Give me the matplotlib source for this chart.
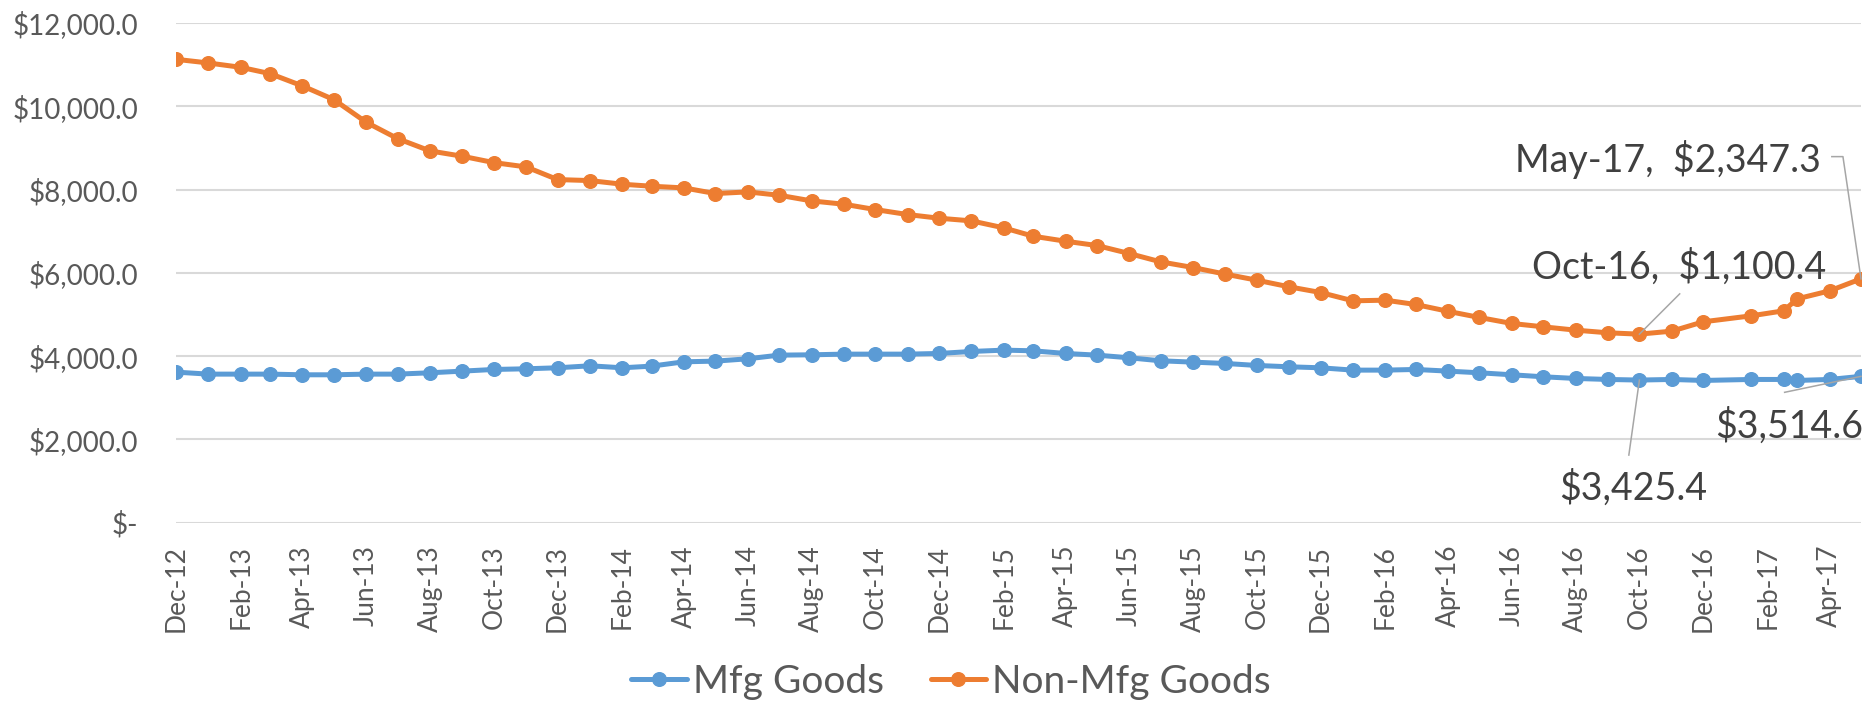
import matplotlib
matplotlib.use("Agg")
import matplotlib.pyplot as plt
import matplotlib.dates as mdates
import matplotlib.ticker as mticker
import matplotlib.transforms as mtransforms
import pandas as pd

# ── Data ──────────────────────────────────────────────────────────────────────

# Monthly observations Dec-12 .. Dec-16, then the 2017 reporting dates
dates = list(pd.date_range("2012-12-01", "2016-12-01", freq="MS")) + [
    pd.Timestamp("2017-01-16"),
    pd.Timestamp("2017-02-16"),
    pd.Timestamp("2017-03-01"),
    pd.Timestamp("2017-04-01"),
    pd.Timestamp("2017-05-01"),
]

mfg_goods = [
    3616, 3568, 3568, 3568, 3552, 3552, 3568, 3568, 3600, 3640, 3680, 3696,
    3720, 3768, 3720, 3760, 3864, 3880, 3936, 4024, 4032, 4048, 4048, 4048,
    4064, 4112, 4144, 4128, 4064, 4024, 3960, 3888, 3856, 3824, 3776, 3744,
    3720, 3664, 3664, 3680, 3640, 3600, 3552, 3504, 3464, 3440, 3425.4, 3440,
    3416, 3440, 3440, 3416, 3440, 3514.6,
]

non_mfg_goods = [
    11128, 11040, 10936, 10784, 10488, 10160, 9616, 9224, 8928, 8800, 8648, 8544,
    8240, 8216, 8128, 8080, 8040, 7904, 7944, 7864, 7728, 7648, 7520, 7400,
    7312, 7248, 7080, 6880, 6760, 6656, 6464, 6264, 6128, 5968, 5824, 5664,
    5528, 5328, 5344, 5240, 5076, 4928, 4784, 4704, 4624, 4560, 4528, 4600,
    4824, 4968, 5088, 5376, 5568, 5856,
]

series_names = ["Mfg Goods", "Non-Mfg Goods"]

# Callout figures shown next to the Non-Mfg points
callout_months = ["Oct-16", "May-17"]
callout_figures = [1100.4, 2347.3]

# ── Style ─────────────────────────────────────────────────────────────────────

BLUE = "#5B9BD5"
ORANGE = "#ED7D31"
GRID = "#D9D9D9"
TICK_TXT = "#595959"
LABEL_TXT = "#404040"
LEADER = "#A6A6A6"

plt.rcParams["font.family"] = ["Lato", "DejaVu Sans"]


def money(v, _pos=None):
    if v == 0:
        return "$-"
    return f"${v:,.1f}"


fig = plt.figure(figsize=(18.72, 7.03), dpi=100)
ax = fig.add_axes([176 / 1872, 1 - 522.7 / 703, (1861 - 176) / 1872, (522.7 - 23) / 703])

line_kw = dict(lw=3.6, marker="o", markersize=9.8, solid_capstyle="round")
ax.plot(dates, mfg_goods, color=BLUE, label=series_names[0], **line_kw)
ax.plot(dates, non_mfg_goods, color=ORANGE, label=series_names[1], **line_kw)

ax.set_xlim(dates[0], dates[-1])
ax.set_ylim(0, 12000)
ax.yaxis.set_major_locator(mticker.MultipleLocator(2000))
ax.yaxis.set_major_formatter(mticker.FuncFormatter(money))
ax.xaxis.set_major_locator(mdates.MonthLocator(bymonth=(2, 4, 6, 8, 10, 12)))
ax.xaxis.set_major_formatter(mdates.DateFormatter("%b-%y"))

ax.grid(axis="y", color=GRID, lw=1.5)
ax.set_axisbelow(True)
for side in ax.spines.values():
    side.set_visible(False)

ax.tick_params(axis="y", length=0, pad=27, labelsize=20, labelcolor=TICK_TXT)
ax.tick_params(axis="x", length=0, pad=16, labelsize=19, labelcolor=TICK_TXT,
               labelrotation=90)

# ── Callouts ──────────────────────────────────────────────────────────────────


def leader(x, y, verts_pt):
    """Polyline whose vertices are point offsets from a data point."""
    trans = (mtransforms.Affine2D().scale(1 / 72) + fig.dpi_scale_trans
             + mtransforms.ScaledTranslation(mdates.date2num(x), y, ax.transData))
    xs, ys = zip(*verts_pt)
    ax.plot(xs, ys, color=LEADER, lw=1.1, transform=trans, clip_on=False, zorder=4)


def callout(x, y, text, dx, dy, ha):
    ax.annotate(text, xy=(x, y), xytext=(dx, dy), textcoords="offset points",
                ha=ha, va="baseline", fontsize=27, color=LABEL_TXT,
                annotation_clip=False, zorder=5)


i_oct = dates.index(pd.Timestamp("2016-10-01"))
i_may = len(dates) - 1

callout(dates[i_may], non_mfg_goods[i_may],
        f"{callout_months[1]},  {money(callout_figures[1])}", -28.6, 77.1, "right")
leader(dates[i_may], non_mfg_goods[i_may], [(0, 0), (-13, 88), (-21, 88)])

callout(dates[i_oct], non_mfg_goods[i_oct],
        f"{callout_months[0]},  {money(callout_figures[0])}", 134.6, 40.2, "right")
leader(dates[i_oct], non_mfg_goods[i_oct], [(0, 0), (29, 29)])

callout(dates[i_oct], mfg_goods[i_oct], money(mfg_goods[i_oct]), -4.7, -86.4, "center")
leader(dates[i_oct], mfg_goods[i_oct], [(0, 0), (-7.6, -54)])

callout(dates[i_may], mfg_goods[i_may], money(mfg_goods[i_may]), 1.7, -44, "right")
leader(dates[i_may], mfg_goods[i_may], [(0, 0), (-55, -11.5)])

# ── Legend ────────────────────────────────────────────────────────────────────

fig.legend(loc="center", bbox_to_anchor=(951 / 1872, 21 / 703), ncol=2,
           frameon=False, fontsize=28, labelcolor=TICK_TXT,
           handlelength=1.43, handletextpad=0.15, columnspacing=1.2,
           borderaxespad=0, borderpad=0)

fig.savefig("out.png", dpi=100, facecolor="white")
